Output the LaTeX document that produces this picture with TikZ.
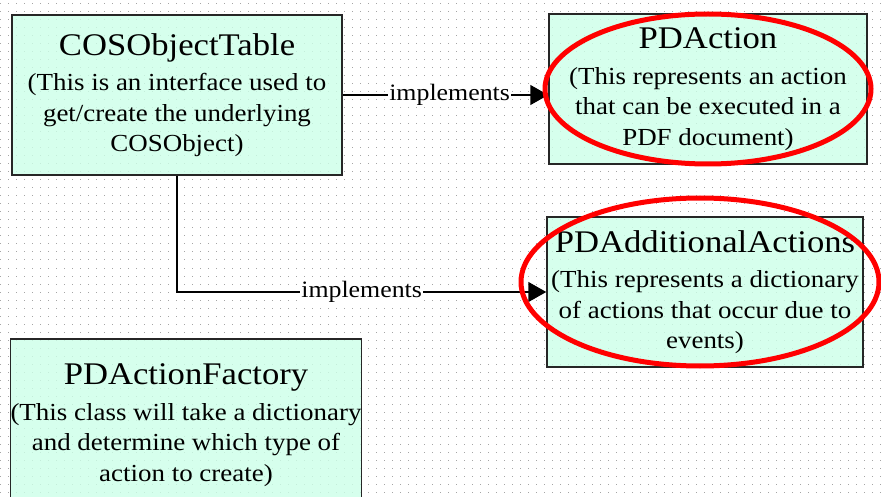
\documentclass[tikz,border=0pt]{standalone}
\usepackage{fontspec}
\setmainfont{Liberation Serif}[FakeStretch=1.1]
\usetikzlibrary{arrows.meta}
\definecolor{boxfill}{RGB}{204,255,232}
\definecolor{dotgray}{RGB}{165,165,165}
\newcommand{\boxtitle}[1]{{\fontsize{31.5}{36}\selectfont #1}}

\begin{document}
\begin{tikzpicture}[x=1pt,y=-1pt,
    classbox/.style={draw=black!85,line width=1.5pt,fill=boxfill,fill opacity=0.8,text opacity=1,
      align=center,inner sep=0pt,font=\fontsize{24.5}{30.5}\selectfont},
    implarrow/.style={line width=1.5pt,-{Triangle[length=18pt,width=20pt]}},
    impllabel/.style={fill=white,inner sep=1pt,font=\fontsize{23.5}{28}\selectfont},
    markring/.style={red,line width=5pt}]
  \useasboundingbox (0,0) rectangle (881,497);
  \clip (0,0) rectangle (881,497);
  \foreach \y in {4,12,...,496}
    \draw[dotgray,line width=1pt,dash pattern=on 1pt off 7pt] (0,\y) -- (881,\y);

  \node[classbox,minimum width=330pt,minimum height=160pt] (cosobj) at (177,95)
    {\boxtitle{COSObjectTable}\\[5pt](This is an interface used to\\get/create the underlying\\COSObject)};
  \node[classbox,minimum width=318pt,minimum height=150pt] (pdaction) at (708,89)
    {\boxtitle{PDAction}\\[5pt](This represents an action\\that can be executed in a\\PDF document)};
  \node[classbox,minimum width=316pt,minimum height=150pt] (pdadd) at (705,292)
    {\boxtitle{PDAdditionalActions}\\[5pt](This represents a dictionary\\of actions that occur due to\\events)};
  \node[classbox,minimum width=348pt,minimum height=172pt] (factory) at (186,425)
    {\boxtitle{PDActionFactory}\\[5pt](This class will take a dictionary\\and determine which type of\\action to create)};

  \draw[implarrow] (cosobj.east) -- (cosobj.east -| pdaction.west)
    node[impllabel,pos=0.52] {implements};
  \draw[implarrow] (cosobj.south) |- (pdadd.west)
    node[impllabel,pos=0.75] {implements};

  \draw[markring] (708,89) ellipse [x radius=163pt, y radius=75pt];
  \draw[markring] (700,282) ellipse [x radius=179pt, y radius=84pt];
\end{tikzpicture}
\end{document}
